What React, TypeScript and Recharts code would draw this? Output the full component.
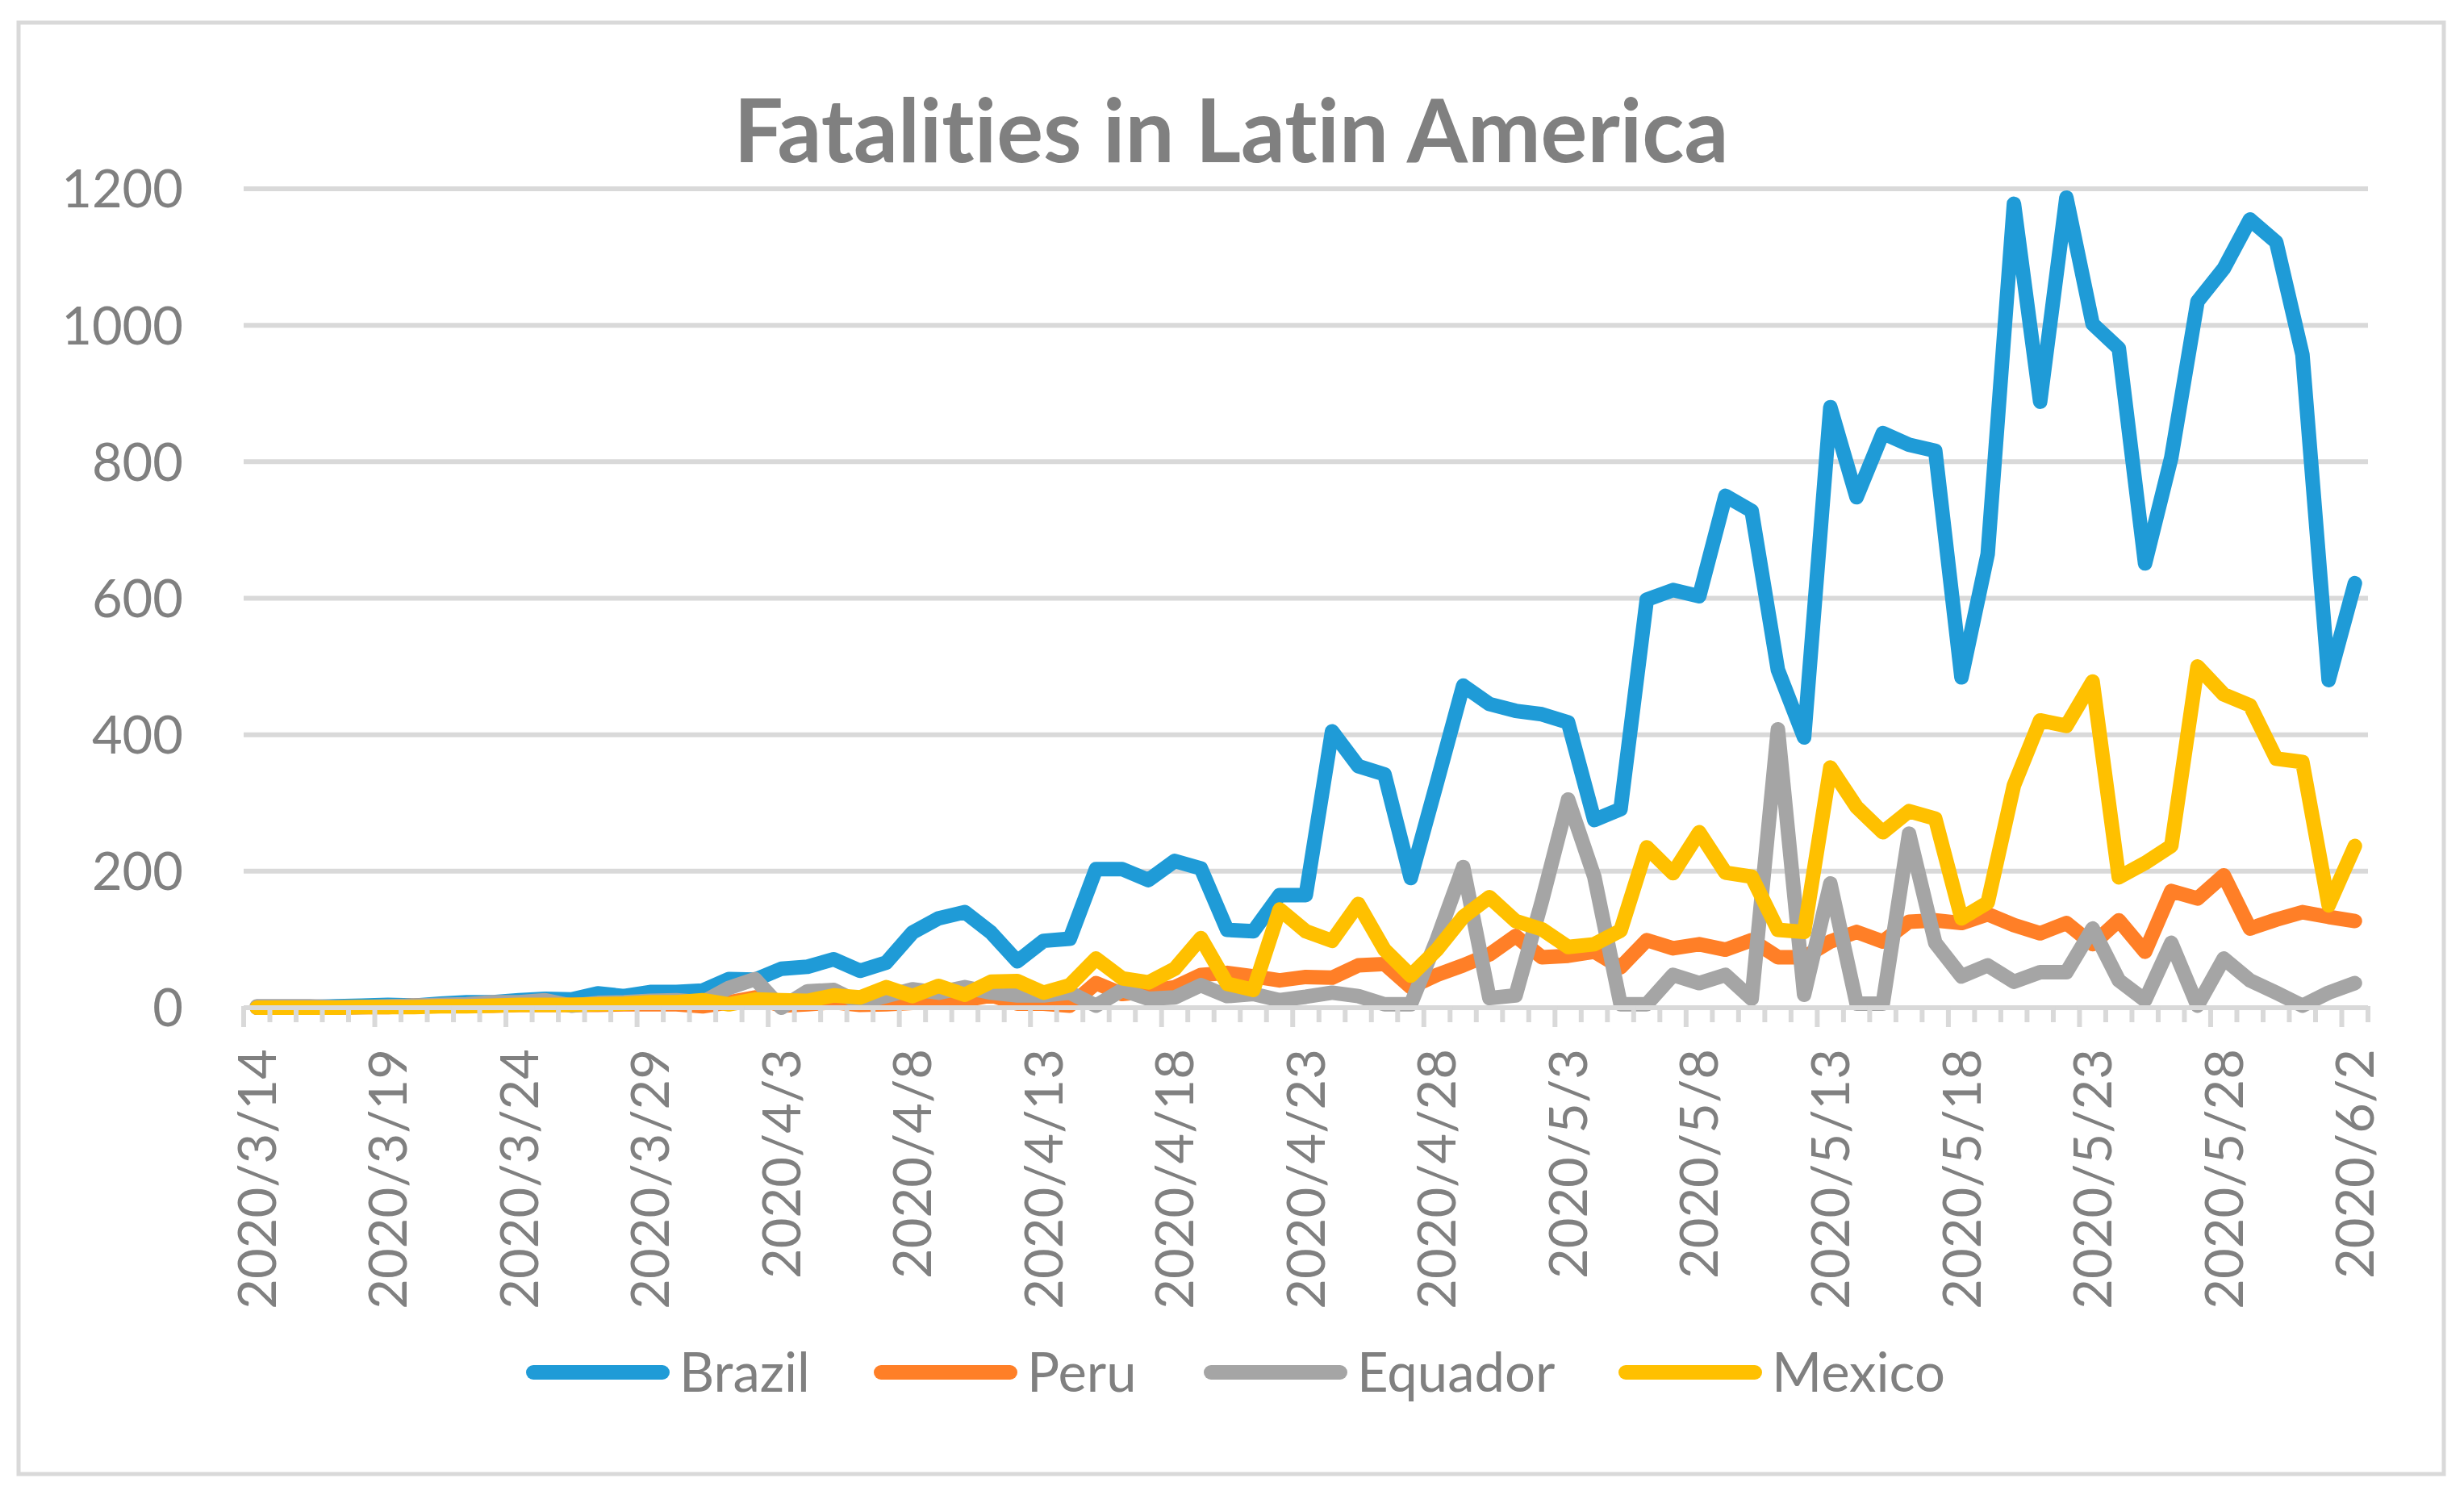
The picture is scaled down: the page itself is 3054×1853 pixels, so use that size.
import React from 'react';
import { LineChart, Line, XAxis, YAxis, CartesianGrid } from 'recharts';

const dates = [
  '2020/3/14','2020/3/15','2020/3/16','2020/3/17','2020/3/18','2020/3/19','2020/3/20','2020/3/21','2020/3/22','2020/3/23',
  '2020/3/24','2020/3/25','2020/3/26','2020/3/27','2020/3/28','2020/3/29','2020/3/30','2020/3/31','2020/4/1','2020/4/2',
  '2020/4/3','2020/4/4','2020/4/5','2020/4/6','2020/4/7','2020/4/8','2020/4/9','2020/4/10','2020/4/11','2020/4/12',
  '2020/4/13','2020/4/14','2020/4/15','2020/4/16','2020/4/17','2020/4/18','2020/4/19','2020/4/20','2020/4/21','2020/4/22',
  '2020/4/23','2020/4/24','2020/4/25','2020/4/26','2020/4/27','2020/4/28','2020/4/29','2020/4/30','2020/5/1','2020/5/2',
  '2020/5/3','2020/5/4','2020/5/5','2020/5/6','2020/5/7','2020/5/8','2020/5/9','2020/5/10','2020/5/11','2020/5/12',
  '2020/5/13','2020/5/14','2020/5/15','2020/5/16','2020/5/17','2020/5/18','2020/5/19','2020/5/20','2020/5/21','2020/5/22',
  '2020/5/23','2020/5/24','2020/5/25','2020/5/26','2020/5/27','2020/5/28','2020/5/29','2020/5/30','2020/5/31','2020/6/1',
  '2020/6/2',
];

const brazil = [
  0, 0, 1, 2, 3, 4, 3, 6, 8, 8,
  11, 13, 12, 21, 17, 23, 23, 25, 42, 41,
  57, 60, 71, 54, 66, 110, 131, 140, 110, 68,
  98, 101, 203, 203, 187, 215, 204, 114, 112, 165,
  165, 405, 354, 342, 190, 330, 472, 445, 435, 430,
  418, 275, 291, 598, 612, 603, 750, 728, 495, 396,
  880, 748, 842, 825, 816, 484, 665, 1178, 888, 1187,
  1002, 966, 651, 806, 1035, 1083, 1155, 1122, 957, 480,
  622,
];

const peru = [
  0, 0, 0, 0, 1, 1, 3, 3, 3, 3,
  4, 4, 4, 4, 5, 5, 5, 2, 8, 15,
  3, 5, 8, 4, 5, 7, 9, 11, 18, 6,
  6, 3, 36, 20, 24, 30, 48, 51, 46, 40,
  45, 44, 62, 64, 30, 48, 62, 78, 105, 74,
  76, 82, 59, 99, 87, 93, 85, 99, 74, 74,
  97, 111, 97, 126, 128, 124, 137, 121, 109, 124,
  93, 128, 82, 171, 160, 194, 116, 129, 140, 133,
  127,
];

const ecuador = [
  2, 2, 2, 1, 1, 2, 3, 4, 5, 8,
  8, 11, 3, 7, 8, 10, 11, 8, 29, 42,
  0, 24, 26, 7, 17, 27, 22, 30, 22, 18,
  18, 22, 3, 26, 13, 15, 33, 17, 20, 11,
  16, 22, 17, 5, 5, 100, 206, 14, 18, 156,
  305, 192, 5, 5, 48, 36, 48, 13, 408, 19,
  182, 6, 6, 255, 95, 46, 62, 38, 52, 52,
  116, 40, 11, 95, 3, 72, 40, 22, 3, 22,
  36,
];

const mexico = [
  0, 0, 0, 0, 1, 1, 1, 2, 2, 3,
  4, 4, 4, 5, 6, 8, 8, 11, 5, 12,
  11, 10, 18, 15, 30, 17, 32, 19, 38, 39,
  22, 33, 72, 43, 37, 57, 102, 35, 26, 144,
  112, 98, 152, 85, 47, 85, 133, 162, 127, 115,
  89, 93, 113, 235, 197, 257, 198, 192, 114, 111,
  352, 294, 257, 288, 277, 131, 154, 326, 421, 413,
  478, 191, 212, 237, 500, 459, 443, 365, 360, 150,
  237,
];

const yTicks = [0, 200, 400, 600, 800, 1000, 1200];
const seriesNames = ['Brazil', 'Peru', 'Equador', 'Mexico'];
const seriesValues = [brazil, peru, ecuador, mexico];
const seriesColors = ['#1F9BD7', '#FF7F27', '#A5A5A5', '#FFC000'];
const titleText = 'Fatalities in Latin America';

const data = dates.map((d, i) => {
  const row: Record<string, any> = { date: d };
  seriesNames.forEach((n, k) => { row[n] = seriesValues[k][i]; });
  return row;
});

const FONT = "Lato, 'Open Sans', sans-serif";
const TEXT = '#808080';
const GRID = '#D9D9D9';
const LABEL_EVERY = 5;
const noLig = { fontVariantLigatures: 'none' as const, fontFeatureSettings: '"liga" 0, "clig" 0' };

const XTick = (props: any) => {
  const { x, y, payload, width, visibleTicksCount } = props;
  let half = 0;
  if (payload && typeof payload.offset === 'number' && payload.offset > 0) half = payload.offset;
  else if (typeof width === 'number' && visibleTicksCount) half = width / visibleTicksCount / 2;
  else half = 16.25;
  const idx = payload.index;
  const isMajor = idx % LABEL_EVERY === 0;
  return (
    <g>
      <line x1={x - half} x2={x - half} y1={y - 2} y2={y + (isMajor ? 24 : 18)} stroke={GRID} strokeWidth={6} />
      {idx === dates.length - 1 && (
        <line x1={x + half} x2={x + half} y1={y - 2} y2={y + 18} stroke={GRID} strokeWidth={6} />
      )}
      {isMajor && (
        <text
          x={x}
          y={y + 51}
          dy="0.36em"
          textAnchor="end"
          transform={`rotate(-90, ${x}, ${y + 51})`}
          fontFamily={FONT}
          fontSize={65}
          fill={TEXT}
          style={noLig}
        >
          {payload.value}
        </text>
      )}
    </g>
  );
};

const YTick = (props: any) => {
  const { x, y, payload } = props;
  return (
    <text x={x - 75} y={y} dy="0.36em" textAnchor="end" fontFamily={FONT} fontSize={65} fill={TEXT}>
      {payload.value}
    </text>
  );
};

const legendSwatchX = [652, 1083, 1492, 2006];
const SWATCH_W = 178;

export default function App() {
  return (
    <div style={{ position: 'relative', width: 3054, height: 1853, background: '#fff' }}>
      <style>{'body{margin:0;background:#fff}'}</style>
      <LineChart
        width={3054}
        height={1853}
        data={data}
        margin={{ top: 234, right: 119, bottom: 0, left: 0 }}
      >
        <CartesianGrid horizontal vertical={false} stroke={GRID} strokeWidth={6} />
        <XAxis
          dataKey="date"
          scale="band"
          interval={0}
          height={604}
          tickSize={0}
          tickMargin={0}
          tickLine={false}
          axisLine={{ stroke: GRID, strokeWidth: 6 }}
          tick={<XTick />}
        />
        <YAxis
          width={302}
          domain={[0, 1200]}
          ticks={yTicks}
          tickSize={0}
          tickMargin={0}
          tickLine={false}
          axisLine={false}
          tick={<YTick />}
        />
        {seriesNames.map((n, k) => (
          <Line
            key={n}
            type="linear"
            dataKey={n}
            stroke={seriesColors[k]}
            strokeWidth={18}
            strokeLinejoin="round"
            strokeLinecap="round"
            dot={false}
            activeDot={false}
            isAnimationActive={false}
          />
        ))}
      </LineChart>
      <svg
        width={3054}
        height={1853}
        style={{ position: 'absolute', left: 0, top: 0, pointerEvents: 'none' }}
      >
        <rect x={23} y={28} width={3006} height={1799} fill="none" stroke={GRID} strokeWidth={5} />
        <text
          x={1526}
          y={201}
          textAnchor="middle"
          fontFamily={FONT}
          fontWeight={700}
          fontSize={110}
          fill={TEXT}
          textLength={1233}
          lengthAdjust="spacingAndGlyphs"
          style={noLig}
        >
          {titleText}
        </text>
        {seriesNames.map((n, k) => (
          <g key={n}>
            <line
              x1={legendSwatchX[k] + 9}
              x2={legendSwatchX[k] + SWATCH_W - 9}
              y1={1701}
              y2={1701}
              stroke={seriesColors[k]}
              strokeWidth={18}
              strokeLinecap="round"
            />
            <text x={legendSwatchX[k] + SWATCH_W + 12} y={1701} dy="0.36em" fontFamily={FONT} fontSize={67} fill={TEXT}>
              {n}
            </text>
          </g>
        ))}
      </svg>
    </div>
  );
}
